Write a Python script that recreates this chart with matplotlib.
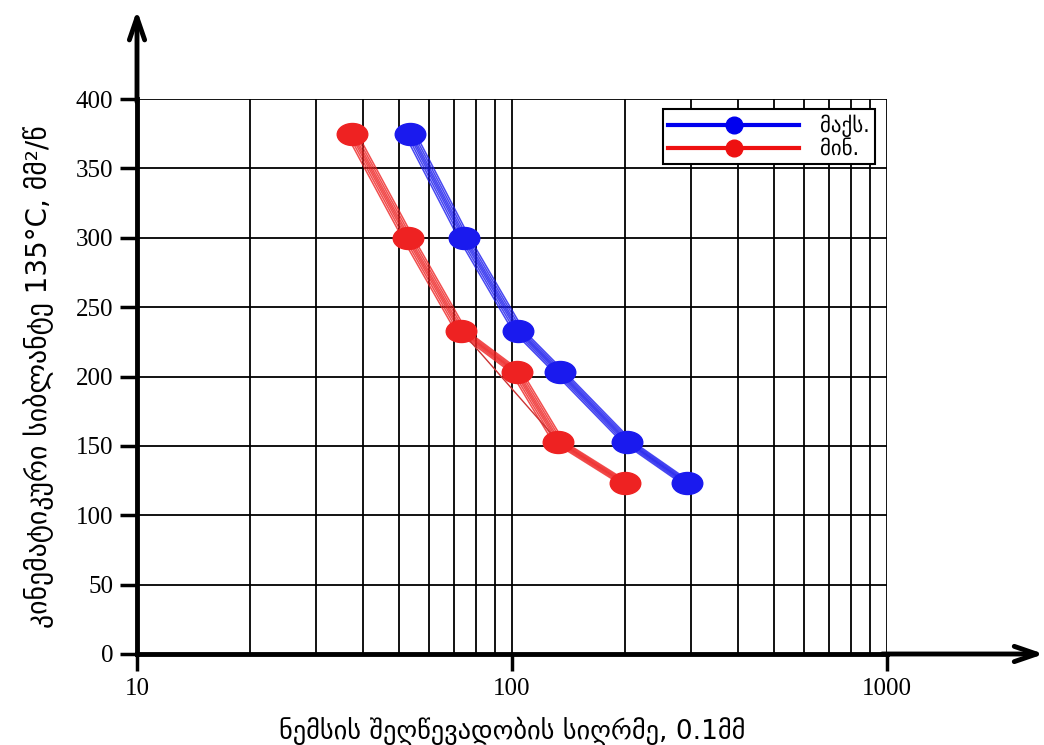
import matplotlib
matplotlib.use("Agg")
import matplotlib.pyplot as plt
from matplotlib.path import Path
from matplotlib.transforms import Affine2D
import numpy as np

# ---- data ----
viscosity = [375, 300, 233, 203, 153, 123]
pen_max = [53.5, 74.5, 104, 134, 203, 293]
pen_min = [37.4, 52.8, 73.1, 103, 133, 200]
x_ticks = [10, 100, 1000]
y_ticks = [0, 50, 100, 150, 200, 250, 300, 350, 400]
legend_labels = ["მაქს.", "მინ."]
xlabel = "ნემსის შეღწევადობის სიღრმე, 0.1მმ"
ylabel = "კინემატიკური სიბლანტე 135°C, მმ²/წ"

geo_font = ["DejaVu Sans"]
num_font = ["Liberation Serif", "DejaVu Serif"]

fig = plt.figure(figsize=(10.44, 7.45), dpi=100)
ax = fig.add_axes([137/1044, 1 - 654/745, (887-137)/1044, (654-99)/745])
ax.set_xscale("log")
ax.set_xlim(10, 1000)
ax.set_ylim(0, 400)

# grid
minor = [k * 10**e for e in (1, 2) for k in range(2, 10)]
for v in minor + [100, 1000]:
    ax.axvline(v, color="black", lw=1.3, zorder=1)
for v in y_ticks[1:]:
    ax.axhline(v, color="black", lw=1.3, zorder=1)

ell = Path.unit_circle().transformed(Affine2D().scale(1.0, 0.72))

offsets = [0.965, 0.978, 0.99, 1.0, 1.01, 1.022, 1.035]
for xs, col in ((pen_max, "#1a1aee"), (pen_min, "#ee2222")):
    xs = np.array(xs)
    for f in offsets:
        ax.plot(xs * f, viscosity, color=col, lw=1.1, alpha=0.8, zorder=3)
    ax.plot(xs, viscosity, color=col, lw=0, marker=ell, ms=22, zorder=4)

# stray construction line in red
ax.plot([pen_min[2], pen_min[4]], [viscosity[2], viscosity[4]], color="#cc3333", lw=1, zorder=3)

# legend
h1, = ax.plot([], [], color="#0000ee", lw=3, marker="o", ms=12)
h2, = ax.plot([], [], color="#ee1111", lw=3, marker="o", ms=12)
leg = ax.legend([h1, h2], legend_labels, loc="upper right", bbox_to_anchor=(0.998, 1.0),
                fancybox=False, edgecolor="black", framealpha=1, handlelength=6.3,
                prop={"family": geo_font, "size": 15}, borderpad=0.25, labelspacing=0.1,
                handletextpad=1.0)
leg.get_frame().set_linewidth(1.5)
leg.set_zorder(10)

# spines
for s in ("top", "right"):
    ax.spines[s].set_visible(False)
ax.spines["left"].set_linewidth(3.5)
ax.spines["bottom"].set_linewidth(3.5)
ax.spines["left"].set_zorder(5)
ax.spines["bottom"].set_zorder(5)

# axis arrows (open fork heads)
ax.annotate("", xy=(0, 1.165), xycoords="axes fraction", xytext=(0, 0.99),
            arrowprops=dict(arrowstyle="->,head_length=1.6,head_width=0.55", lw=3.5, color="black"),
            annotation_clip=False)
ax.annotate("", xy=(1.213, 0), xycoords="axes fraction", xytext=(0.99, 0),
            arrowprops=dict(arrowstyle="->,head_length=1.6,head_width=0.55", lw=3.5, color="black"),
            annotation_clip=False)

ax.set_xticks(x_ticks)
ax.set_xticklabels([str(t) for t in x_ticks], fontfamily=num_font, fontsize=18)
ax.xaxis.set_minor_locator(matplotlib.ticker.NullLocator())
ax.set_yticks(y_ticks)
ax.set_yticklabels([str(t) for t in y_ticks], fontfamily=num_font, fontsize=18)
ax.tick_params(axis="both", direction="out", length=12, width=2.5, pad=5)

ax.set_xlabel(xlabel, fontfamily=geo_font, fontsize=19, labelpad=12)
ax.set_ylabel(ylabel, fontfamily=geo_font, fontsize=20, labelpad=16)

fig.savefig("out.png", dpi=100, facecolor="white")
